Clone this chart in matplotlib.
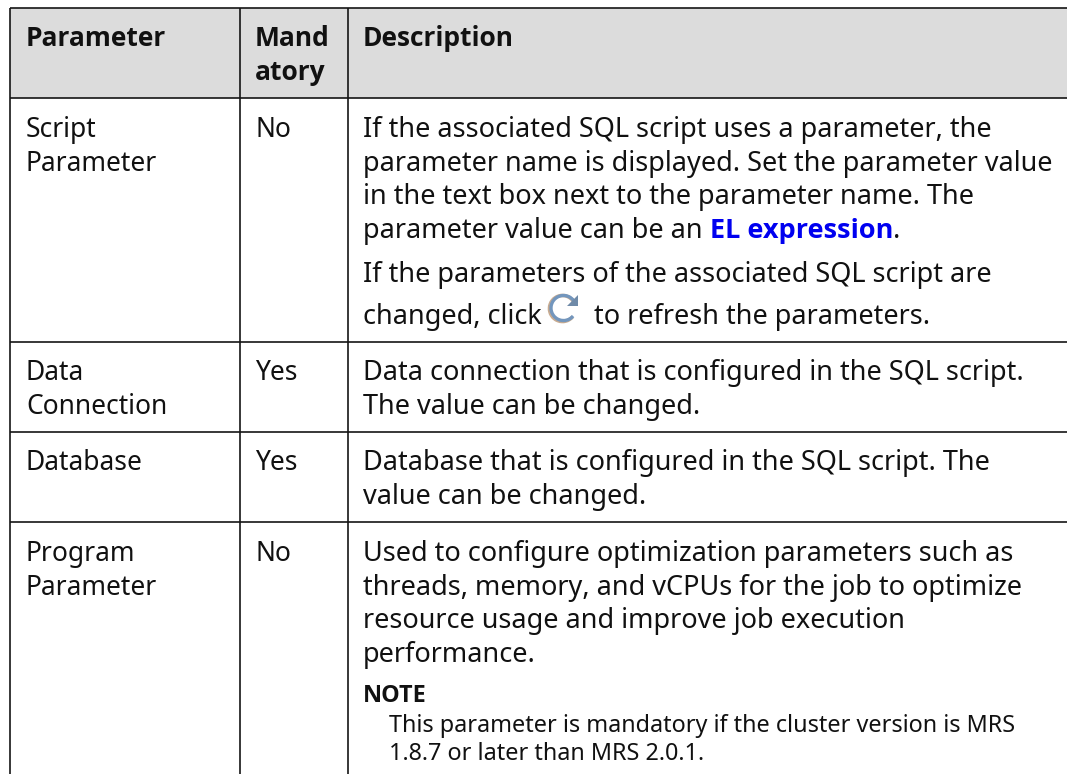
import matplotlib
matplotlib.use("Agg")
import matplotlib.pyplot as plt
from matplotlib.patches import Arc, Polygon, Rectangle

W, H = 1067, 774
plt.rcParams['font.family'] = ['Noto Sans', 'DejaVu Sans']

headers = ["Parameter", "Mand\natory", "Description"]
col_params = ["Script\nParameter", "Data\nConnection", "Database", "Program\nParameter"]
col_mandatory = ["No", "Yes", "Yes", "No"]
desc_script = [
    "If the associated SQL script uses a parameter, the",
    "parameter name is displayed. Set the parameter value",
    "in the text box next to the parameter name. The",
]
desc_link = ["parameter value can be an ", "EL expression", "."]
desc_script2 = "If the parameters of the associated SQL script are"
desc_click = ["changed, click ", " to refresh the parameters."]
desc_conn = ["Data connection that is configured in the SQL script.", "The value can be changed."]
desc_db = ["Database that is configured in the SQL script. The", "value can be changed."]
desc_prog = [
    "Used to configure optimization parameters such as",
    "threads, memory, and vCPUs for the job to optimize",
    "resource usage and improve job execution",
    "performance.",
]
note_title = "NOTE"
note_text = [
    "This parameter is mandatory if the cluster version is MRS",
    "1.8.7 or later than MRS 2.0.1.",
]

# layout in pixels
col_x = [10, 240, 348]
row_y = [7.5, 98, 341.5, 431.5, 522]
row_base = [137, 380, 470, 561]
text_x = [26, 255, 363]
fs = 19.0
fs_desc = 19.5
small = 16.85
line_c = "#151515"
bold = dict(family=["Open Sans", "DejaVu Sans"], fontweight="bold")

fig = plt.figure(figsize=(W / 100, H / 100), dpi=100)
ax = fig.add_axes([0, 0, 1, 1])
ax.set_xlim(0, W)
ax.set_ylim(H, 0)
ax.axis("off")

ax.add_patch(Rectangle((col_x[0], row_y[0]), W - col_x[0], row_y[1] - row_y[0],
                       fc="#dcdcdc", ec="none"))
for x in col_x:
    ax.plot([x, x], [row_y[0], H], color=line_c, lw=1.2, solid_capstyle="butt")
for y in row_y:
    ax.plot([col_x[0], W], [y, y], color=line_c, lw=1.2, solid_capstyle="butt")


def put(x, y, s, **kw):
    kw.setdefault("fontsize", fs)
    kw.setdefault("color", "#111111")
    return ax.text(x, y, s, va="baseline", ha="left", **kw)


def lines(x, y, items, step=33.7, **kw):
    for i, s in enumerate(items):
        put(x, y + i * step, s, **kw)


# header
for tx, h in zip(text_x, headers):
    lines(tx, 46, h.split("\n"), **bold)

# first two columns
for base, p, m in zip(row_base, col_params, col_mandatory):
    lines(text_x[0], base, p.split("\n"))
    put(text_x[1], base, m)

# script parameter row
dx = text_x[2]
lines(dx, 137, desc_script, fontsize=fs_desc)
fig.canvas.draw()
rend = fig.canvas.get_renderer()
x = dx
for s, kw in zip(desc_link, [{}, dict(color="#0000f0", **bold), {}]):
    t = put(x, 238, s.replace(" ", "\u00a0"), **{"fontsize": fs_desc, **kw})
    x += t.get_window_extent(rend).width
put(dx, 282, desc_script2, fontsize=fs_desc)
put(dx, 324, desc_click[0].strip(), fontsize=fs_desc)
put(594, 324, desc_click[1].strip(), fontsize=fs_desc)

# refresh icon
ax.add_patch(Arc((562.5, 308.5), 26, 26, theta1=40, theta2=325, color="#c8ab90", lw=2.6))
ax.add_patch(Arc((563.5, 308), 25, 25, theta1=40, theta2=325, color="#7396bd", lw=2.4))
ax.add_patch(Polygon([[578, 295], [578, 306], [567, 306]], fc="#6f8aa8", ec="none"))

lines(dx, 380, desc_conn, fontsize=fs_desc)
lines(dx, 470, desc_db, fontsize=fs_desc)
lines(dx, 561, desc_prog, fontsize=fs_desc)
put(dx, 702, note_title, fontsize=small, **bold)
lines(389, 732, note_text, step=28.5, fontsize=small)

fig.savefig("out.png", dpi=100)
